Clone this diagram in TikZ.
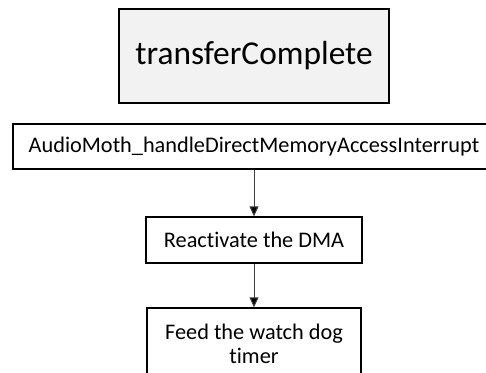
\documentclass[tikz,border=0pt]{standalone}
\usepackage{fontspec}
\setmainfont{Carlito}[Ligatures=NoCommon]
\usetikzlibrary{arrows.meta}
\begin{document}
\begin{tikzpicture}[x=1pt,y=-1pt,
  box/.style={draw=black, line width=1.3pt, inner sep=0pt, align=center},
  conn/.style={draw=black!75, line width=1pt, -{Triangle[length=10pt,width=9pt,fill=black]}}]
\useasboundingbox (0,0) rectangle (486,372);
\node[box, fill=black!5, minimum width=270, minimum height=94, font=\fontsize{33.4}{40}\selectfont] (tc) at (254,56) {transferComplete};
\node[box, minimum width=482, minimum height=45, font=\fontsize{22.3}{26}\selectfont] (h) at (254,146.5) {AudioMoth\_handleDirectMemoryAccessInterrupt};
\node[box, minimum width=216, minimum height=46, font=\fontsize{22.3}{26}\selectfont] (r) at (254,240) {Reactivate the DMA};
\node[box, minimum width=214, minimum height=72, font=\fontsize{22.3}{24.5}\selectfont] (f) at (254,344) {Feed the watch dog\\timer};
\draw[conn] (h) -- (r);
\draw[conn] (r) -- (f);
\end{tikzpicture}
\end{document}
